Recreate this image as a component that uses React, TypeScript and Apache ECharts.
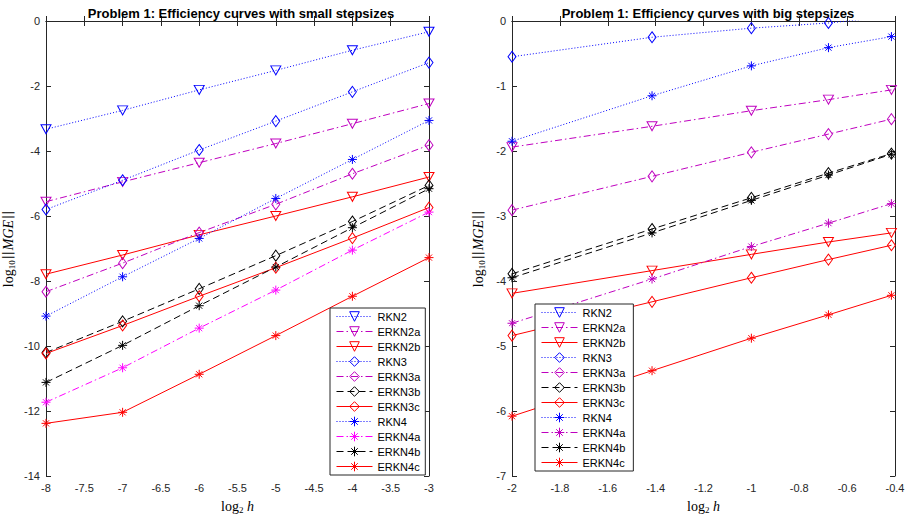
import React, { useEffect, useRef } from "react";
import * as echarts from "echarts";

// ---------- data ----------
const xSmall = [-8, -7, -6, -5, -4, -3];
const xBig = [-2, -1.415, -1, -0.678, -0.415];

const seriesNames = ["RKN2", "ERKN2a", "ERKN2b", "RKN3", "ERKN3a", "ERKN3b", "ERKN3c", "RKN4", "ERKN4a", "ERKN4b", "ERKN4c"];

// small stepsizes (left)
const sRKN2 = [-3.33, -2.75, -2.12, -1.52, -0.9, -0.33];
const sERKN2a = [-5.56, -4.95, -4.36, -3.77, -3.16, -2.54];
const sERKN2b = [-7.79, -7.2, -6.58, -6.0, -5.41, -4.8];
const sRKN3 = [-5.8, -4.9, -3.97, -3.08, -2.18, -1.28];
const sERKN3a = [-8.33, -7.45, -6.51, -5.64, -4.7, -3.82];
const sERKN3b = [-10.2, -9.24, -8.24, -7.22, -6.17, -5.06];
const sERKN3c = [-10.23, -9.37, -8.47, -7.59, -6.68, -5.74];
const sRKN4 = [-9.08, -7.87, -6.69, -5.46, -4.26, -3.06];
const sERKN4a = [-11.73, -10.67, -9.45, -8.28, -7.05, -5.88];
const sERKN4b = [-11.12, -9.98, -8.76, -7.57, -6.36, -5.16];
const sERKN4c = [-12.38, -12.04, -10.87, -9.68, -8.47, -7.28];

// big stepsizes (right)
const bRKN2: (number | null)[] = [null, null, null, null, null];
const bERKN2a = [-1.94, -1.62, -1.38, -1.21, -1.06];
const bERKN2b = [-4.19, -3.84, -3.59, -3.4, -3.26];
const bRKN3 = [-0.55, -0.25, -0.11, -0.03, 0.07];
const bERKN3a = [-2.91, -2.39, -2.02, -1.74, -1.51];
const bERKN3b = [-3.89, -3.2, -2.72, -2.34, -2.04];
const bERKN3c = [-4.84, -4.32, -3.95, -3.67, -3.45];
const bRKN4 = [-1.85, -1.15, -0.69, -0.41, -0.24];
const bERKN4a = [-4.65, -3.97, -3.47, -3.11, -2.81];
const bERKN4b = [-3.95, -3.26, -2.76, -2.37, -2.05];
const bERKN4c = [-6.08, -5.38, -4.88, -4.52, -4.22];

const smallData = [sRKN2, sERKN2a, sERKN2b, sRKN3, sERKN3a, sERKN3b, sERKN3c, sRKN4, sERKN4a, sERKN4b, sERKN4c];
const bigData = [bRKN2, bERKN2a, bERKN2b, bRKN3, bERKN3a, bERKN3b, bERKN3c, bRKN4, bERKN4a, bERKN4b, bERKN4c];

const titles = ["Problem 1: Efficiency curves with small stepsizes", "Problem 1: Efficiency curves with big stepsizes"];

// ---------- styles ----------
const BLUE = "#0000ff";
const PURPLE = "#bf00bf";
const MAGENTA = "#ff00ff";
const BLACK = "#000000";
const RED = "#ff0000";
const AXIS = "#262626";

const ASTER = "path://M5,0L5,10M0,5L10,5M1.6,1.6L8.4,8.4M1.6,8.4L8.4,1.6";

const DOT = [1, 2];
const DASHDOT = [7, 3, 1.5, 3];
const DASH = [7, 4];

type Sty = { color: string; dash: any; marker: "tri" | "dia" | "ast" };
const stylesLeft: Sty[] = [
  { color: BLUE, dash: DOT, marker: "tri" },
  { color: PURPLE, dash: DASHDOT, marker: "tri" },
  { color: RED, dash: "solid", marker: "tri" },
  { color: BLUE, dash: DOT, marker: "dia" },
  { color: PURPLE, dash: DASHDOT, marker: "dia" },
  { color: BLACK, dash: DASH, marker: "dia" },
  { color: RED, dash: "solid", marker: "dia" },
  { color: BLUE, dash: DOT, marker: "ast" },
  { color: MAGENTA, dash: DASHDOT, marker: "ast" },
  { color: BLACK, dash: DASH, marker: "ast" },
  { color: RED, dash: "solid", marker: "ast" },
];
const stylesRight: Sty[] = stylesLeft.map((s, i) => (i === 8 ? { ...s, color: PURPLE } : s));

function markerProps(m: Sty["marker"]) {
  if (m === "tri") return { symbol: "triangle", symbolSize: [10, 9], symbolRotate: 180 };
  if (m === "dia") return { symbol: "diamond", symbolSize: [8, 11], symbolRotate: 0 };
  return { symbol: ASTER, symbolSize: 9, symbolRotate: 0 };
}

function makeSeries(xs: number[], ys: (number | null)[][], sty: Sty[], gi: number, suffix: string) {
  return ys.map((vals, i) => {
    const s = sty[i];
    return {
      type: "line",
      name: seriesNames[i] + suffix,
      xAxisIndex: gi * 2,
      yAxisIndex: gi * 2,
      data: xs.map((x, k) => [x, vals[k]]),
      ...markerProps(s.marker),
      showAllSymbol: true,
      clip: true,
      lineStyle: { color: s.color, width: 1, type: s.dash },
      itemStyle: { color: "rgba(0,0,0,0)", borderColor: s.color, borderWidth: 1 },
      emphasis: { disabled: true },
      z: 3,
    };
  });
}

const fmt = (v: number) => String(Math.round(v * 10) / 10);

const mathRich = {
  n: { fontFamily: "Liberation Serif", fontSize: 14, color: "#000" },
  b: { fontFamily: "DejaVu Sans", fontSize: 12, color: "#000", padding: [0, 1, 0, 1] },
  s: { fontFamily: "Liberation Serif", fontSize: 9, color: "#000", verticalAlign: "bottom", padding: [7, 0, 0, 0] },
  i: { fontFamily: "Liberation Serif", fontSize: 14, fontStyle: "italic", color: "#000" },
};

function axisPair(gi: number, min: number, max: number, interval: number, isX: boolean, name: string, nameGap: number) {
  const main: any = {
    type: "value",
    gridIndex: gi,
    min,
    max,
    interval,
    position: isX ? "bottom" : "left",
    name,
    nameLocation: "middle",
    nameGap,
    nameRotate: isX ? 0 : 90,
    nameTextStyle: { rich: mathRich },
    axisLine: { show: true, lineStyle: { color: AXIS, width: 1 } },
    axisTick: { show: true, inside: true, length: 5, lineStyle: { color: AXIS } },
    axisLabel: { color: AXIS, fontSize: 11, fontFamily: "Liberation Sans", formatter: fmt, margin: 6 },
    splitLine: { show: false },
  };
  const mirror: any = {
    type: "value",
    gridIndex: gi,
    min,
    max,
    interval,
    position: isX ? "top" : "right",
    axisLine: { show: true, lineStyle: { color: AXIS, width: 1 } },
    axisTick: { show: true, inside: true, length: 5, lineStyle: { color: AXIS } },
    axisLabel: { show: false },
    splitLine: { show: false },
  };
  return [main, mirror];
}

function legendFor(left: number, top: number, suffix: string) {
  return {
    show: true,
    orient: "vertical",
    left,
    top,
    data: seriesNames.map((n) => n + suffix),
    backgroundColor: "#ffffff",
    borderColor: AXIS,
    borderWidth: 1,
    borderRadius: 0,
    padding: [3, 5, 3, 6],
    itemGap: 4,
    itemWidth: 36,
    itemHeight: 12,
    selectedMode: false,
    lineStyle: { width: 1 },
    itemStyle: { borderWidth: 1 },
    textStyle: { fontSize: 11, fontFamily: "Liberation Sans", color: "#000" },
    z: 10,
  };
}

export default function App() {
  const ref = useRef<HTMLDivElement>(null);
  useEffect(() => {
    if (!ref.current) return;
    const chart = echarts.init(ref.current, undefined, { renderer: "svg" });
    const yName = "{n|log}{s|10}{b|||}{i|MGE}{b|||}";
    const xName = "{n|log}{s|2}{i| h}";
    const [lxM, lxT] = axisPair(0, -8, -3, 0.5, true, xName, 22);
    const [lyM, lyR] = axisPair(0, -14, 0, 2, false, yName, 30);
    const [rxM, rxT] = axisPair(1, -2, -0.4, 0.2, true, xName, 22);
    const [ryM, ryR] = axisPair(1, -7, 0, 1, false, yName, 26);
    const titleStyle = { fontSize: 13, fontWeight: "bold", fontFamily: "Liberation Sans", color: "#000" };
    const option: any = {
      animation: false,
      backgroundColor: "#ffffff",
      title: [
        { text: titles[0], left: 236, top: 2, textAlign: "center", textStyle: titleStyle },
        { text: titles[1], left: 703, top: 2, textAlign: "center", textStyle: titleStyle },
      ],
      grid: [
        { left: 44, right: 482, top: 21, bottom: 39, containLabel: false },
        { left: 512, right: 16, top: 21, bottom: 39, containLabel: false },
      ],
      xAxis: [lxM, lxT, rxM, rxT],
      yAxis: [lyM, lyR, ryM, ryR],
      legend: [legendFor(330, 308, ""), legendFor(535, 304, " ")],
      series: [
        ...makeSeries(xSmall, smallData, stylesLeft, 0, ""),
        ...makeSeries(xBig, bigData, stylesRight, 1, " "),
      ],
    };
    chart.setOption(option);
    return () => chart.dispose();
  }, []);
  return <div ref={ref} style={{ position: "fixed", left: 0, top: 0, width: 911, height: 519 }} />;
}
